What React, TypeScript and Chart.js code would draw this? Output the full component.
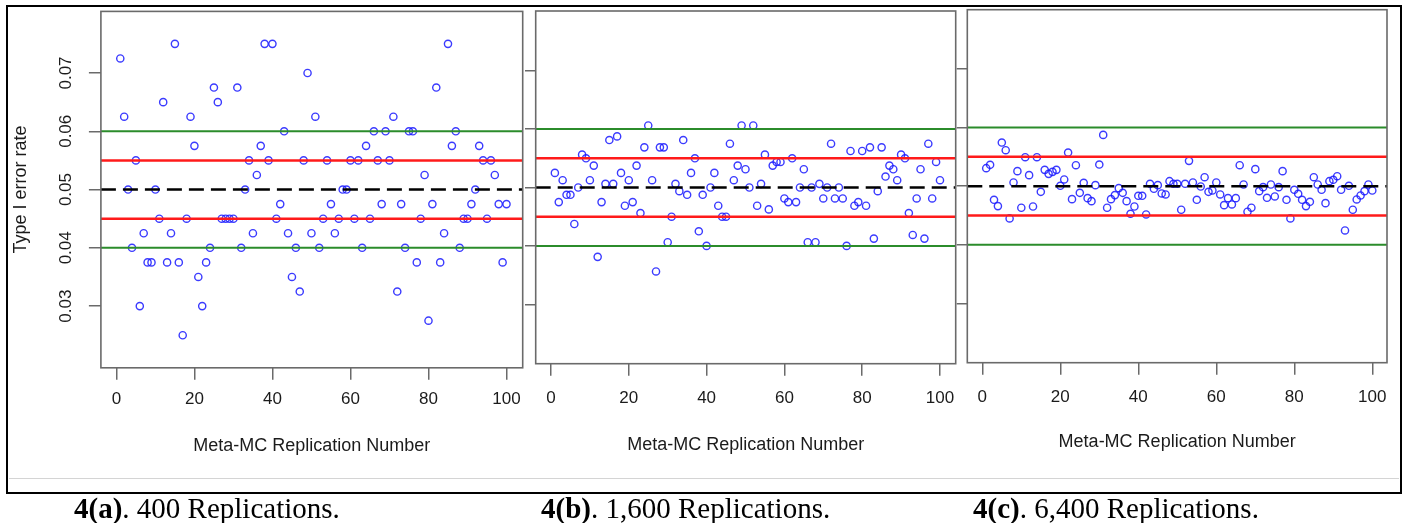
import React, { useEffect, useRef } from "react";
import { Chart, registerables } from "chart.js";

Chart.register(...registerables);

// ---------- data ----------
const replicationNumbers = [
  1, 2, 3, 4, 5, 6, 7, 8, 9, 10, 11, 12, 13, 14, 15, 16, 17, 18, 19, 20,
  21, 22, 23, 24, 25, 26, 27, 28, 29, 30, 31, 32, 33, 34, 35, 36, 37, 38, 39, 40,
  41, 42, 43, 44, 45, 46, 47, 48, 49, 50, 51, 52, 53, 54, 55, 56, 57, 58, 59, 60,
  61, 62, 63, 64, 65, 66, 67, 68, 69, 70, 71, 72, 73, 74, 75, 76, 77, 78, 79, 80,
  81, 82, 83, 84, 85, 86, 87, 88, 89, 90, 91, 92, 93, 94, 95, 96, 97, 98, 99, 100,
];

const rates400 = [
  0.0725, 0.0625, 0.05, 0.04, 0.055, 0.03, 0.0425, 0.0375, 0.0375, 0.05,
  0.045, 0.065, 0.0375, 0.0425, 0.075, 0.0375, 0.025, 0.045, 0.0625, 0.0575,
  0.035, 0.03, 0.0375, 0.04, 0.0675, 0.065, 0.045, 0.045, 0.045, 0.045,
  0.0675, 0.04, 0.05, 0.055, 0.0425, 0.0525, 0.0575, 0.075, 0.055, 0.075,
  0.045, 0.0475, 0.06, 0.0425, 0.035, 0.04, 0.0325, 0.055, 0.07, 0.0425,
  0.0625, 0.04, 0.045, 0.055, 0.0475, 0.0425, 0.045, 0.05, 0.05, 0.055,
  0.045, 0.055, 0.04, 0.0575, 0.045, 0.06, 0.055, 0.0475, 0.06, 0.055,
  0.0625, 0.0325, 0.0475, 0.04, 0.06, 0.06, 0.0375, 0.045, 0.0525, 0.0275,
  0.0475, 0.0675, 0.0375, 0.0425, 0.075, 0.0575, 0.06, 0.04, 0.045, 0.045,
  0.0475, 0.05, 0.0575, 0.055, 0.045, 0.055, 0.0525, 0.0475, 0.0375, 0.0475,
];

const rates1600 = [
  0.0525, 0.0475, 0.05125, 0.04875, 0.04875, 0.04375, 0.05, 0.055625, 0.055, 0.05125,
  0.05375, 0.038125, 0.0475, 0.050625, 0.058125, 0.050625, 0.05875, 0.0525, 0.046875, 0.05125,
  0.0475, 0.05375, 0.045625, 0.056875, 0.060625, 0.05125, 0.035625, 0.056875, 0.056875, 0.040625,
  0.045, 0.050625, 0.049375, 0.058125, 0.04875, 0.0525, 0.055, 0.0425, 0.04875, 0.04,
  0.05, 0.0525, 0.046875, 0.045, 0.045, 0.0575, 0.05125, 0.05375, 0.060625, 0.053125,
  0.05, 0.060625, 0.046875, 0.050625, 0.055625, 0.04625, 0.05375, 0.054375, 0.054375, 0.048125,
  0.0475, 0.055, 0.0475, 0.05, 0.053125, 0.040625, 0.05, 0.040625, 0.050625, 0.048125,
  0.05, 0.0575, 0.048125, 0.05, 0.048125, 0.04, 0.05625, 0.046875, 0.0475, 0.05625,
  0.046875, 0.056875, 0.04125, 0.049375, 0.056875, 0.051875, 0.05375, 0.053125, 0.05125, 0.055625,
  0.055, 0.045625, 0.041875, 0.048125, 0.053125, 0.04125, 0.0575, 0.048125, 0.054375, 0.05125,
];

const rates6400 = [
  0.05307, 0.05364, 0.04767, 0.04659, 0.05744, 0.05614, 0.04449, 0.05063, 0.05256, 0.04631,
  0.05494, 0.05188, 0.04653, 0.05494, 0.04903, 0.05278, 0.0521, 0.05244, 0.05278, 0.05006,
  0.05114, 0.05574, 0.04778, 0.05358, 0.04886, 0.05057, 0.04795, 0.04744, 0.05017, 0.05369,
  0.05875, 0.04631, 0.04778, 0.04847, 0.04966, 0.04886, 0.04744, 0.04528, 0.04653, 0.04835,
  0.04835, 0.04517, 0.0504, 0.04955, 0.05017, 0.04875, 0.04858, 0.05085, 0.0504, 0.0504,
  0.04597, 0.0504, 0.05432, 0.05063, 0.04767, 0.04994, 0.05153, 0.04903, 0.04926, 0.05063,
  0.04858, 0.04676, 0.04795, 0.04688, 0.04795, 0.05358, 0.05028, 0.04563, 0.04631, 0.0529,
  0.04915, 0.04983, 0.04801, 0.05028, 0.04824, 0.04983, 0.05256, 0.04767, 0.04449, 0.04938,
  0.04869, 0.04767, 0.04659, 0.04733, 0.05153, 0.05028, 0.04938, 0.0471, 0.05085, 0.05108,
  0.0517, 0.04938, 0.04244, 0.05006, 0.04597, 0.04773, 0.04841, 0.04915, 0.05028, 0.04926,
];

const xTickValues = [0, 20, 40, 60, 80, 100];
const yTickValues = [0.03, 0.04, 0.05, 0.06, 0.07];
const nominalRate = 0.05;
const innerBand = [0.045, 0.055];
const outerBand = [0.04, 0.06];

const xAxisTitle = "Meta-MC Replication Number";
const yAxisTitle = "Type I error rate";

// ---------- styling / layout ----------
const FONT = "'Liberation Sans', Arial, sans-serif";
const SERIF = "'Liberation Serif', 'Times New Roman', serif";
const TEXT = "#1b1b1b";
const AXIS = "#6a6a6a";
const GREEN = "#2b8c2b";
const RED = "#ff1a1a";
const POINT = "rgba(25,25,255,0.85)";
const CANVAS_H = 470;
const X_AXIS_H = 90;
const TICK_FONT = 17;
const TITLE_FONT = 18;
const X_TICK_LEN = 12;

type Panel = {
  key: string;
  values: number[];
  canvasLeft: number;
  canvasWidth: number;
  plotLeft: number;
  plotRight: number;
  plotTop: number;
  plotBottom: number;
  xMin: number;
  xMax: number;
  yMin: number;
  yMax: number;
  yTickLen: number;
  showYLabels: boolean;
  labelY: number;
  titleY: number;
};

const panels: Panel[] = [
  {
    key: "a", values: rates400,
    canvasLeft: 0, canvasWidth: 530,
    plotLeft: 100.9, plotRight: 522.7, plotTop: 11.4, plotBottom: 367.8,
    xMin: -3.97, xMax: 104.15, yMin: 0.019412, yMax: 0.080571,
    yTickLen: 12, showYLabels: true, labelY: 399, titleY: 446,
  },
  {
    key: "b", values: rates1600,
    canvasLeft: 518, canvasWidth: 445,
    plotLeft: 535.7, plotRight: 955.7, plotTop: 11, plotBottom: 363.7,
    xMin: -3.93, xMax: 104.04, yMin: 0.019829, yMax: 0.080223,
    yTickLen: 10.7, showYLabels: false, labelY: 398, titleY: 445,
  },
  {
    key: "c", values: rates6400,
    canvasLeft: 950, canvasWidth: 450,
    plotLeft: 967.3, plotRight: 1387, plotTop: 9.7, plotBottom: 362.7,
    xMin: -3.85, xMax: 103.77, yMin: 0.019859, yMax: 0.080124,
    yTickLen: 10.6, showYLabels: false, labelY: 397, titleY: 442,
  },
];

const plotFrame = {
  id: "plotFrame",
  afterDatasetsDraw(chart: any) {
    const { ctx, chartArea } = chart;
    const { left, top, right, bottom } = chartArea;
    ctx.save();
    ctx.strokeStyle = AXIS;
    ctx.lineWidth = 1.6;
    ctx.strokeRect(left, top, right - left, bottom - top);
    ctx.restore();
  },
};

function buildConfig(p: Panel): any {
  const points = replicationNumbers.map((x, i) => ({ x, y: p.values[i] }));
  const hline = (y: number) => [
    { x: p.xMin, y },
    { x: p.xMax, y },
  ];
  const lineDs = (y: number, color: string, width: number, dash: number[] = []) => ({
    type: "line",
    data: hline(y),
    borderColor: color,
    borderWidth: width,
    borderDash: dash,
    pointRadius: 0,
    pointHoverRadius: 0,
    fill: false,
    tension: 0,
    order: 0,
  });
  const tickLabelPad = p.labelY - p.plotBottom - X_TICK_LEN - (TICK_FONT * 1.2) / 2;
  const titlePadBottom = p.plotBottom + X_AXIS_H - (TITLE_FONT * 1.2) / 2 - p.titleY;
  const yAxisWidth = p.plotLeft - p.canvasLeft;
  const labelCenterX = 66;
  const widest = TICK_FONT * 1.946;
  const yTickPad = p.plotLeft - p.yTickLen - labelCenterX - widest / 2;

  return {
    type: "scatter",
    data: {
      datasets: [
        lineDs(outerBand[0], GREEN, 2),
        lineDs(outerBand[1], GREEN, 2),
        lineDs(innerBand[0], RED, 2.5),
        lineDs(innerBand[1], RED, 2.5),
        lineDs(nominalRate, "#000000", 2.5, [15, 7]),
        {
          type: "scatter",
          data: points,
          pointStyle: "circle",
          pointRadius: 3.6,
          pointHoverRadius: 3.6,
          borderColor: POINT,
          borderWidth: 1.4,
          backgroundColor: "rgba(0,0,0,0)",
          order: 1,
        },
      ],
    },
    options: {
      responsive: false,
      maintainAspectRatio: false,
      animation: false,
      devicePixelRatio: 1,
      events: [],
      layout: {
        padding: {
          left: 0,
          top: p.plotTop,
          right: p.canvasLeft + p.canvasWidth - p.plotRight,
          bottom: CANVAS_H - p.plotBottom - X_AXIS_H,
        },
      },
      plugins: {
        legend: { display: false },
        tooltip: { enabled: false },
        title: { display: false },
      },
      scales: {
        x: {
          type: "linear",
          position: "bottom",
          min: p.xMin,
          max: p.xMax,
          afterBuildTicks: (s: any) => {
            s.ticks = xTickValues.map((v) => ({ value: v }));
          },
          afterFit: (s: any) => {
            s.height = X_AXIS_H;
            s.paddingLeft = 0;
            s.paddingRight = 0;
            s.paddingTop = 0;
            s.paddingBottom = 0;
          },
          ticks: {
            autoSkip: false,
            includeBounds: false,
            maxRotation: 0,
            minRotation: 0,
            padding: tickLabelPad,
            color: TEXT,
            font: { family: FONT, size: TICK_FONT },
            callback: (v: any) => String(v),
          },
          grid: {
            display: true,
            drawOnChartArea: false,
            drawTicks: true,
            tickLength: X_TICK_LEN,
            color: AXIS,
            lineWidth: 1.5,
          },
          border: { display: false },
          title: {
            display: true,
            text: xAxisTitle,
            color: TEXT,
            font: { family: FONT, size: TITLE_FONT },
            padding: { top: 0, bottom: titlePadBottom },
          },
        },
        y: {
          type: "linear",
          position: "left",
          min: p.yMin,
          max: p.yMax,
          afterBuildTicks: (s: any) => {
            s.ticks = yTickValues.map((v) => ({ value: v }));
          },
          afterFit: (s: any) => {
            s.width = yAxisWidth;
            s.paddingLeft = 0;
            s.paddingRight = 0;
            s.paddingTop = 0;
            s.paddingBottom = 0;
          },
          ticks: {
            display: p.showYLabels,
            autoSkip: false,
            includeBounds: false,
            minRotation: 90,
            maxRotation: 90,
            crossAlign: "center",
            padding: yTickPad,
            color: TEXT,
            font: { family: FONT, size: TICK_FONT },
            callback: (v: any) => Number(v).toFixed(2),
          },
          grid: {
            display: true,
            drawOnChartArea: false,
            drawTicks: true,
            tickLength: p.yTickLen,
            color: AXIS,
            lineWidth: 1.5,
          },
          border: { display: false },
          title: {
            display: p.showYLabels,
            text: yAxisTitle,
            color: TEXT,
            font: { family: FONT, size: TITLE_FONT },
            padding: { top: 10.7, bottom: 0 },
          },
        },
      },
    },
    plugins: [plotFrame],
  };
}

function PanelChart({ panel }: { panel: Panel }) {
  const ref = useRef<HTMLCanvasElement | null>(null);
  useEffect(() => {
    if (!ref.current) return;
    const chart = new Chart(ref.current, buildConfig(panel));
    return () => chart.destroy();
  }, [panel]);
  return (
    <canvas
      ref={ref}
      width={panel.canvasWidth}
      height={CANVAS_H}
      style={{
        position: "absolute",
        left: panel.canvasLeft,
        top: 0,
        width: panel.canvasWidth,
        height: CANVAS_H,
      }}
    />
  );
}

const captions = [
  { label: "4(a)", rest: ". 400 Replications.", left: 74 },
  { label: "4(b)", rest: ". 1,600 Replications.", left: 541 },
  { label: "4(c)", rest: ". 6,400 Replications.", left: 973 },
];

export default function App() {
  return (
    <div
      style={{
        position: "absolute",
        left: 0,
        top: 0,
        width: 1406,
        height: 523,
        overflow: "hidden",
        background: "#ffffff",
      }}
    >
      {panels.map((p) => (
        <PanelChart key={p.key} panel={p} />
      ))}
      <div
        style={{
          position: "absolute",
          left: 9,
          top: 478,
          width: 1390,
          height: 1,
          background: "#d4d4d4",
        }}
      />
      <div
        style={{
          position: "absolute",
          left: 6,
          top: 5,
          width: 1396,
          height: 489,
          boxSizing: "border-box",
          border: "2px solid #000",
          pointerEvents: "none",
        }}
      />
      {captions.map((c) => (
        <div
          key={c.label}
          style={{
            position: "absolute",
            left: c.left,
            top: 494,
            fontFamily: SERIF,
            fontSize: 29,
            lineHeight: "28px",
            whiteSpace: "nowrap",
            color: "#000",
          }}
        >
          <b>{c.label}</b>
          {c.rest}
        </div>
      ))}
    </div>
  );
}
